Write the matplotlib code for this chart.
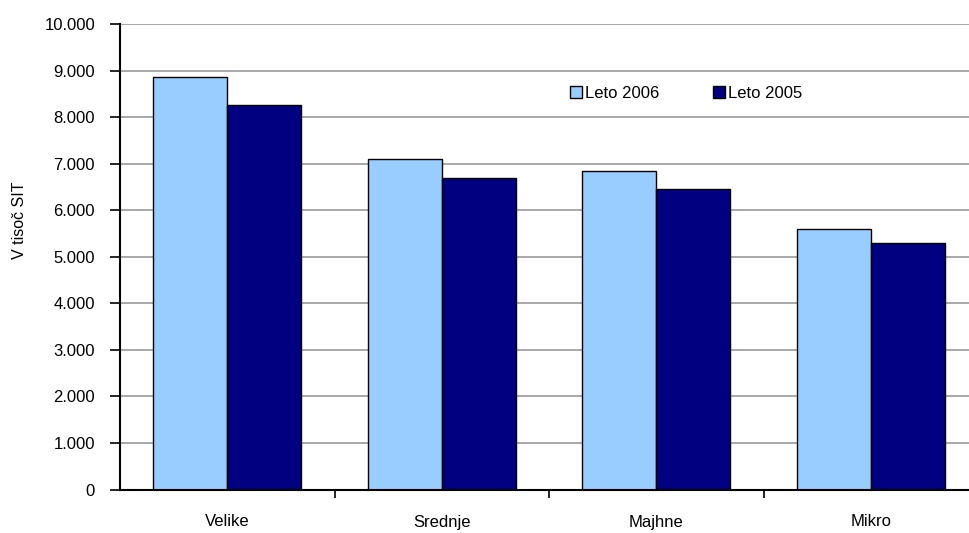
import matplotlib
matplotlib.use('Agg')
import matplotlib.pyplot as plt
import numpy as np

categories = ['Velike', 'Srednje', 'Majhne', 'Mikro']
leto_2006 = [8870, 7110, 6850, 5600]
leto_2005 = [8250, 6700, 6460, 5300]
y_ticks = [0, 1000, 2000, 3000, 4000, 5000, 6000, 7000, 8000, 9000, 10000]
y_labels = ['0', '1.000', '2.000', '3.000', '4.000', '5.000',
            '6.000', '7.000', '8.000', '9.000', '10.000']

plt.rcParams['font.family'] = ['Liberation Sans', 'DejaVu Sans']

fig = plt.figure(figsize=(9.69, 5.33), dpi=100)
# plot area runs slightly past the right edge of the picture
ax = fig.add_axes([120 / 969, 1 - 489.5 / 533, 858 / 969, 465.5 / 533])

x = np.arange(len(categories))
w = 0.345
ax.bar(x - w / 2, leto_2006, w, color='#99CCFF', edgecolor='black',
       linewidth=1, label='Leto 2006', zorder=3)
ax.bar(x + w / 2, leto_2005, w, color='#000080', edgecolor='black',
       linewidth=1, label='Leto 2005', zorder=3)

ax.set_xlim(-0.5, len(categories) - 0.5)
ax.set_ylim(0, 10000)
ax.set_yticks(y_ticks)
ax.set_yticklabels(y_labels, fontsize=12)
ax.yaxis.grid(True, color='#999999', linewidth=1.2, zorder=0)

ax.set_xticks(x)
ax.set_xticklabels(categories, fontsize=12)
ax.tick_params(axis='x', which='major', length=0, pad=18)
ax.set_xticks(np.arange(0.5, len(categories) - 0.5, 1), minor=True)
ax.tick_params(axis='x', which='minor', length=6, width=1.2, direction='out')
ax.tick_params(axis='y', length=7, width=1.2, direction='out', pad=11)

for s in ['top', 'right']:
    ax.spines[s].set_visible(False)
for s in ['left', 'bottom']:
    ax.spines[s].set_linewidth(1.5)
    ax.spines[s].set_zorder(4)

fig.text(20 / 969, 1 - 220 / 533, 'V tisoč SIT', rotation=90,
         ha='center', va='center', fontsize=11.5)

ax.legend(loc='center left', bbox_to_anchor=(562 / 969, 1 - 93 / 533),
          bbox_transform=fig.transFigure, ncol=2, frameon=False,
          fontsize=12, handlelength=0.7, handleheight=0.7,
          handletextpad=0.2, columnspacing=3.2, borderpad=0)

fig.savefig('out.png', dpi=100)
